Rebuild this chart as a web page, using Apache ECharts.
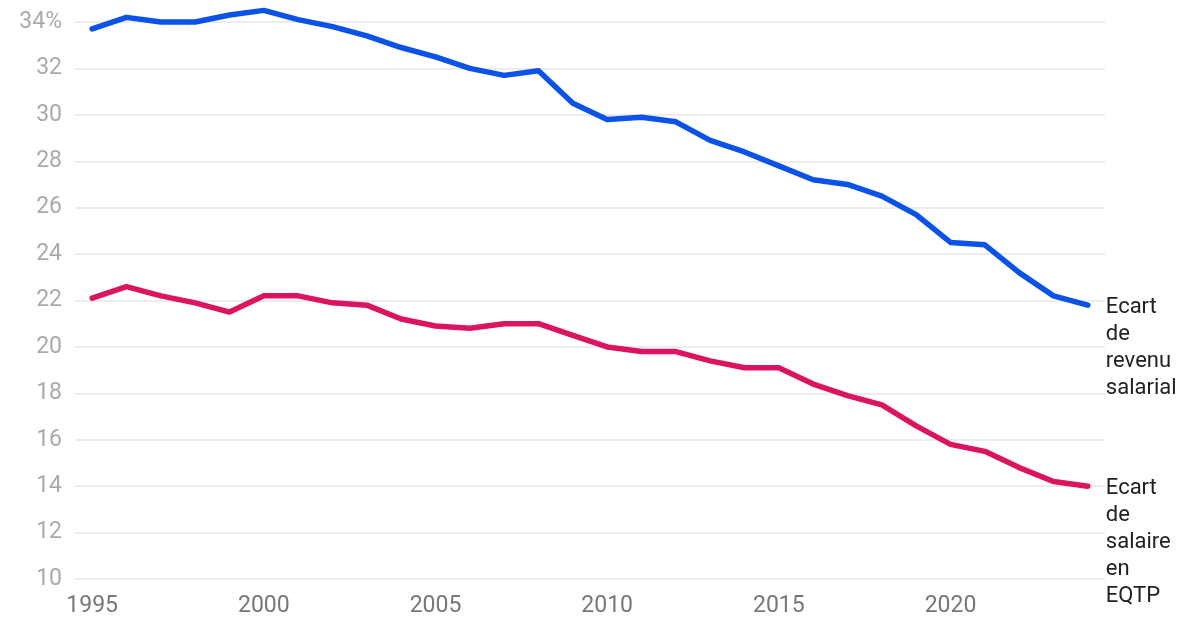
<!DOCTYPE html>
<html>
<head>
<meta charset="utf-8">
<script src="https://cdn.jsdelivr.net/npm/echarts@6/dist/echarts.min.js"></script>
<style>html,body{margin:0;padding:0;background:#fff;}#c{width:1200px;height:628px;}</style>
</head>
<body>
<div id="c"></div>
<script>
var years = [];
for (var y = 1995; y <= 2024; y++) years.push(String(y));
var revenuSalarial = [33.7,34.2,34.0,34.0,34.3,34.5,34.1,33.8,33.4,32.9,32.5,32.0,31.7,31.9,30.5,29.8,29.9,29.7,28.9,28.4,27.8,27.2,27.0,26.5,25.7,24.5,24.4,23.2,22.2,21.8];
var salaireEQTP = [22.1,22.6,22.2,21.9,21.5,22.2,22.2,21.9,21.8,21.2,20.9,20.8,21.0,21.0,20.5,20.0,19.8,19.8,19.4,19.1,19.1,18.4,17.9,17.5,16.6,15.8,15.5,14.8,14.2,14.0];
var seriesNames = ['Ecart\nde\nrevenu\nsalarial', 'Ecart\nde\nsalaire\nen\nEQTP'];
var yTicks = {min: 10, max: 34, interval: 2};

var chart = echarts.init(document.getElementById('c'), null, {renderer: 'canvas'});
function endLbl(text) {
  return {
    show: true,
    formatter: function () { return text; },
    color: '#222',
    fontFamily: 'Roboto',
    fontSize: 22,
    lineHeight: 27,
    align: 'left',
    verticalAlign: 'top',
    distance: 18,
    offset: [0, -11.5]
  };
}
chart.setOption({
  animation: false,
  backgroundColor: '#fff',
  grid: {left: 75, right: 95, top: 22, bottom: 49, containLabel: false},
  xAxis: {
    type: 'category',
    data: years,
    boundaryGap: true,
    axisLine: {show: false},
    axisTick: {show: false},
    axisLabel: {
      interval: function (i, v) { return (Number(v) - 1995) % 5 === 0; },
      color: '#777',
      fontFamily: 'Roboto',
      fontSize: 23,
      margin: 16
    },
    splitLine: {show: false}
  },
  yAxis: {
    type: 'value',
    min: yTicks.min, max: yTicks.max, interval: yTicks.interval,
    axisLine: {show: false},
    axisTick: {show: false},
    axisLabel: {
      formatter: function (v) { return v === 34 ? '34%' : String(v); },
      color: '#aaa',
      fontFamily: 'Roboto',
      fontSize: 23,
      margin: 13
    },
    splitLine: {lineStyle: {color: '#e6e6e6', width: 1.5}}
  },
  series: [
    {
      name: 'revenu', type: 'line', data: revenuSalarial, clip: false,
      symbol: 'none', lineStyle: {color: '#0A52E8', width: 5.5, cap: 'round', join: 'round'},
      itemStyle: {color: '#0A52E8'},
      endLabel: endLbl(seriesNames[0])
    },
    {
      name: 'salaire', type: 'line', data: salaireEQTP, clip: false,
      symbol: 'none', lineStyle: {color: '#DC1460', width: 5.5, cap: 'round', join: 'round'},
      itemStyle: {color: '#DC1460'},
      endLabel: endLbl(seriesNames[1])
    }
  ]
});
</script>
</body>
</html>
